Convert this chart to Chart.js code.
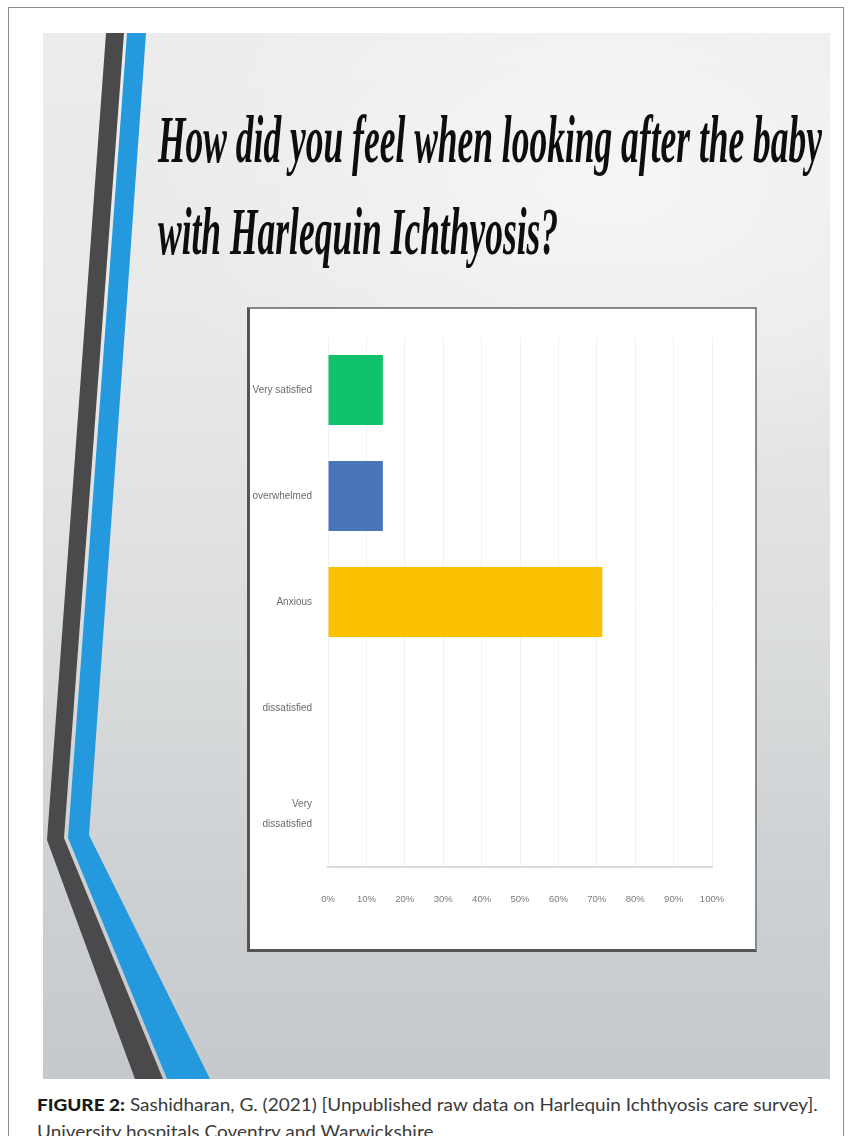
<!DOCTYPE html>
<html lang="en">
<head>
<meta charset="UTF-8">
<title>How did you feel when looking after the baby with Harlequin Ichthyosis?</title>
<script src="https://cdn.jsdelivr.net/npm/chart.js"></script>
<style>
  body { margin: 0; width: 851px; height: 1136px; overflow: hidden; background: #fff; position: relative; }
  #frame { position: absolute; left: 8px; top: 7px; width: 834px; height: 1200px; border: 1px solid #8c8c8c; }
  #slide {
    position: absolute; left: 43px; top: 33px; width: 787px; height: 1046px; overflow: hidden;
    background:
      radial-gradient(ellipse 60% 30% at 72% 14%, rgba(255,255,255,0.55), rgba(255,255,255,0) 100%),
      linear-gradient(180deg, #ececec 0%, #e9e9ea 28%, #dcdedf 55%, #cfd2d4 78%, #c6c9cc 100%);
  }
  #slide svg { position: absolute; left: 0; top: 0; }
  .title {
    position: absolute; left: 158px; height: 68px; line-height: 68px; white-space: nowrap;
    font: italic bold 68px "Liberation Serif", "Times New Roman", serif; color: #0d0d0d;
    transform-origin: left top;
  }
  #box {
    position: absolute; left: 247px; top: 307px; width: 505px; height: 640px; background: #fff;
    border-style: solid; border-color: #888 #8a8a8a #555 #555; border-width: 2px 2px 3px 3px;
  }
  #box canvas { position: absolute; left: 0; top: 0; }
  .cap {
    position: absolute; left: 37px; line-height: 17px; white-space: nowrap;
    font: 17px Lato, "Open Sans", sans-serif; color: #3a3a3a; transform-origin: left top;
  }
  .cap b { font-weight: 900; color: #1b1b1b; }
</style>
</head>
<body>
  <div id="frame"></div>
  <div id="slide">
    <svg width="787" height="1046" viewBox="43 33 787 1046">
      <polygon points="106,33 124,33 64,838 163,1079 135,1079 47,840" fill="#4a4a4c"/>
      <polygon points="127,33 146,33 89,835 210,1079 167,1079 68,838" fill="#2599de"/>
    </svg>
  </div>
  <div class="title" id="t1" style="top:100px">How did you feel when looking after the baby</div>
  <div class="title" id="t2" style="top:192px">with Harlequin Ichthyosis?</div>

  <div id="box"><canvas id="chart" width="505" height="640"></canvas></div>

  <div class="cap" id="c1" style="top:1094px"><b>FIGURE 2:</b> Sashidharan, G. (2021) [Unpublished raw data on Harlequin Ichthyosis care survey].</div>
  <div class="cap" id="c2" style="top:1121px">University hospitals Coventry and Warwickshire</div>

  <script>
    // answers and share of respondents (%)
    const categories = ['Very satisfied', 'overwhelmed', 'Anxious', 'dissatisfied', ['Very', 'dissatisfied']];
    const percents = [14.29, 14.29, 71.43, 0, 0];
    const barColors = ['#10c26b', '#4a76b9', '#fbc000', '#fbc000', '#fbc000'];
    const xTicks = [0, 10, 20, 30, 40, 50, 60, 70, 80, 90, 100];

    // squeeze the slide title and caption to their widths in the picture
    function fit(el, width) {
      const w = el.scrollWidth;
      const s = width / w;
      el.style.transform = 'scaleX(' + s + ')';
      return s;
    }
    document.fonts.ready.then(() => {
      const s = fit(document.getElementById('t1'), 664);
      document.getElementById('t2').style.transform = 'scaleX(' + s + ')';
      const c = fit(document.getElementById('c1'), 781);
      document.getElementById('c2').style.transform = 'scaleX(' + c + ')';
    });

    const labelFont = '"Liberation Sans", Arial, sans-serif';

    new Chart(document.getElementById('chart').getContext('2d'), {
      type: 'bar',
      data: {
        labels: categories,
        datasets: [{
          data: percents,
          backgroundColor: barColors,
          borderWidth: 0,
          barPercentage: 0.66,
          categoryPercentage: 1
        }]
      },
      options: {
        indexAxis: 'y',
        responsive: false,
        animation: false,
        layout: { padding: { top: 19, right: 43, left: 0, bottom: 0 } },
        plugins: { legend: { display: false }, tooltip: { enabled: false } },
        scales: {
          x: {
            min: 0,
            max: 100,
            afterBuildTicks: (axis) => { axis.ticks = xTicks.map(v => ({ value: v })); },
            afterFit: (axis) => { axis.height = 82; },
            ticks: {
              callback: (v) => v + '%',
              color: '#7a7a7a',
              padding: 27,
              maxRotation: 0,
              autoSkip: false,
              font: { family: labelFont, size: 9.5 }
            },
            grid: { color: '#f2f2f2', drawTicks: false },
            border: { color: '#dadada', width: 2 }
          },
          y: {
            afterFit: (axis) => { axis.width = 78; },
            ticks: {
              color: '#6b6b6b',
              padding: 8,
              font: { family: labelFont, size: 10, lineHeight: 2 }
            },
            grid: { display: false },
            border: { display: false }
          }
        }
      }
    });
  </script>
</body>
</html>
